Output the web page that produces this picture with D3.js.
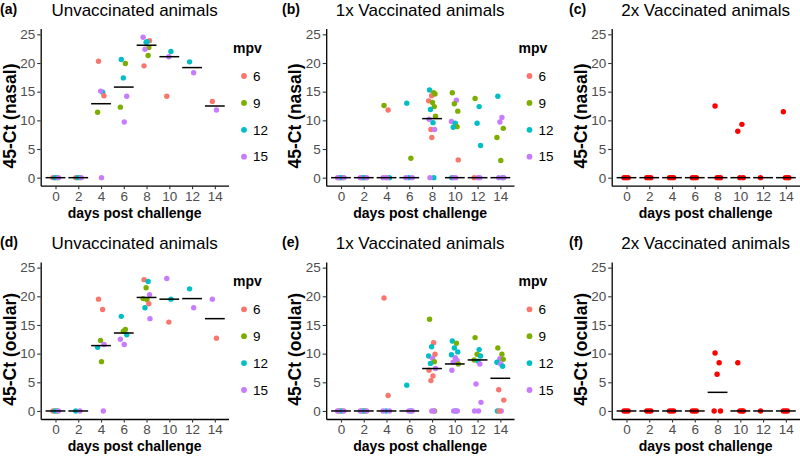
<!DOCTYPE html>
<html>
<head>
<meta charset="utf-8">
<script src="https://cdn.jsdelivr.net/npm/d3@7"></script>
<style>
body { margin: 0; background: #fff; }
text { font-family: "Liberation Sans", Arial, sans-serif; }
</style>
</head>
<body>
<script>
var svgWidth = 800;
var svgHeight = 458;

// ejes y niveles
var days = [0, 2, 4, 6, 8, 10, 12, 14];
var yTicks = [0, 5, 10, 15, 20, 25];
var mpvLevels = [6, 9, 12, 15];
var mpvColors = ["#F8766D", "#7CAE00", "#00BFC4", "#C77CFF"];

// [dia, mpv, 45-Ct]  -- (a) nasal, no vacunados
var nasalUnvax = [
  [0, 6, 0], [0, 9, 0], [0, 12, 0], [0, 15, 0],
  [2, 6, 0], [2, 9, 0], [2, 12, 0], [2, 15, 0],
  [4, 6, 20.3], [4, 12, 14.9], [4, 15, 15.1], [4, 6, 14.3], [4, 9, 11.4], [4, 15, 0],
  [6, 12, 20.6], [6, 9, 19.9], [6, 12, 17.4], [6, 15, 14.2], [6, 9, 12.3], [6, 15, 9.7],
  [8, 6, 19.5], [8, 9, 21.3], [8, 12, 23.6], [8, 6, 23.9], [8, 15, 24.5], [8, 12, 23.7], [8, 9, 22.7], [8, 15, 22.4],
  [10, 6, 14.2], [10, 12, 22.0], [10, 15, 21.1],
  [12, 12, 20.2], [12, 15, 18.3],
  [14, 6, 13.3], [14, 15, 11.8]
];
var nasalUnvaxMed = [0, 0, 12.9, 15.8, 23.1, 21.1, 19.2, 12.5];

// (b) nasal, 1x vacunados
var nasal1x = [
  [0, 6, 0], [0, 9, 0], [0, 12, 0], [0, 15, 0], [0, 15, 0],
  [2, 6, 0], [2, 9, 0], [2, 12, 0], [2, 15, 0], [2, 15, 0],
  [4, 9, 12.6], [4, 6, 11.8], [4, 6, 0], [4, 12, 0], [4, 15, 0], [4, 15, 0],
  [6, 12, 13.0], [6, 9, 3.4], [6, 12, 0], [6, 15, 0], [6, 15, 0],
  [8, 12, 15.3], [8, 9, 14.8], [8, 6, 14.3], [8, 9, 14.6], [8, 6, 13.4], [8, 9, 13.1], [8, 9, 12.4], [8, 12, 11.9],
  [8, 9, 10.7], [8, 15, 10.2], [8, 12, 9.6], [8, 6, 8.4], [8, 15, 8.4], [8, 6, 7.0], [8, 12, 0], [8, 15, 0],
  [10, 9, 14.8], [10, 15, 13.5], [10, 9, 12.9], [10, 9, 11.6], [10, 15, 9.8], [10, 12, 9.5], [10, 9, 8.9], [10, 12, 8.8],
  [10, 6, 3.1], [10, 12, 0], [10, 15, 0], [10, 15, 0],
  [12, 9, 13.8], [12, 12, 12.4], [12, 12, 9.5], [12, 12, 5.6], [12, 6, 0], [12, 15, 0], [12, 15, 0],
  [14, 12, 14.2], [14, 15, 10.5], [14, 15, 9.7], [14, 9, 8.6], [14, 9, 7.0], [14, 9, 3.0], [14, 12, 0], [14, 15, 0], [14, 15, 0]
];
var nasal1xMed = [0, 0, 0, 0, 10.3, 0, 0, 0];

// (c) nasal, 2x vacunados (sin mpv)
var nasal2x = [
  [0, 0, 0], [0, 0, 0], [0, 0, 0],
  [2, 0, 0], [2, 0, 0], [2, 0, 0],
  [4, 0, 0], [4, 0, 0], [4, 0, 0],
  [6, 0, 0], [6, 0, 0], [6, 0, 0],
  [8, 0, 12.5], [8, 0, 0], [8, 0, 0], [8, 0, 0],
  [10, 0, 8.1], [10, 0, 9.3], [10, 0, 0], [10, 0, 0],
  [12, 0, 0],
  [14, 0, 11.5], [14, 0, 0], [14, 0, 0], [14, 0, 0]
];
var nasal2xMed = [0, 0, 0, 0, 0, 0, 0, 0];

// (d) ocular, no vacunados
var ocularUnvax = [
  [0, 6, 0], [0, 9, 0], [0, 12, 0], [0, 15, 0],
  [2, 12, 0], [2, 15, 0],
  [4, 6, 19.5], [4, 6, 17.7], [4, 9, 12.3], [4, 15, 11.6], [4, 12, 11.1], [4, 9, 8.6], [4, 15, 0],
  [6, 12, 16.5], [6, 9, 14.2], [6, 9, 13.9], [6, 12, 13.3], [6, 15, 12.5], [6, 15, 11.6],
  [8, 6, 22.9], [8, 12, 22.6], [8, 9, 21.5], [8, 15, 20.3], [8, 9, 19.6], [8, 9, 19.4], [8, 6, 18.7], [8, 12, 18.0], [8, 15, 16.1],
  [10, 15, 23.1], [10, 12, 19.5], [10, 6, 15.5],
  [12, 12, 21.3], [12, 15, 18.0],
  [14, 15, 19.5], [14, 6, 12.7]
];
var ocularUnvaxMed = [0, 0, 11.4, 13.6, 19.8, 19.5, 19.6, 16.1];

// (e) ocular, 1x vacunados
var ocular1x = [
  [0, 6, 0], [0, 9, 0], [0, 12, 0], [0, 15, 0], [0, 15, 0],
  [2, 6, 0], [2, 9, 0], [2, 12, 0], [2, 15, 0], [2, 15, 0],
  [4, 6, 19.7], [4, 6, 2.7], [4, 12, 0], [4, 15, 0], [4, 15, 0],
  [6, 12, 4.5], [6, 12, 0], [6, 15, 0], [6, 15, 0],
  [8, 9, 16.0], [8, 6, 11.9], [8, 12, 11.2], [8, 6, 9.9], [8, 12, 9.6], [8, 15, 9.2], [8, 9, 8.6], [8, 12, 8.3],
  [8, 15, 7.4], [8, 6, 7.1], [8, 6, 6.1], [8, 6, 5.3], [8, 9, 0], [8, 15, 0], [8, 15, 0],
  [10, 12, 12.2], [10, 9, 11.8], [10, 12, 11.0], [10, 12, 10.3], [10, 12, 9.8], [10, 15, 9.3], [10, 15, 8.8], [10, 15, 8.5],
  [10, 9, 8.2], [10, 15, 7.1], [10, 12, 0], [10, 15, 0], [10, 15, 0],
  [12, 9, 12.8], [12, 12, 10.7], [12, 9, 9.9], [12, 12, 9.6], [12, 9, 8.9], [12, 12, 8.7], [12, 15, 8.2], [12, 15, 4.7],
  [12, 15, 1.5], [12, 15, 0], [12, 15, 0],
  [14, 9, 11.0], [14, 9, 9.9], [14, 15, 9.1], [14, 9, 9.0], [14, 12, 8.5], [14, 15, 8.2], [14, 12, 7.8], [14, 6, 3.7],
  [14, 6, 1.9], [14, 12, 0], [14, 15, 0], [14, 6, 0]
];
var ocular1xMed = [0, 0, 0, 0, 7.4, 8.2, 8.9, 5.7];

// (f) ocular, 2x vacunados
var ocular2x = [
  [0, 0, 0], [0, 0, 0], [0, 0, 0],
  [2, 0, 0], [2, 0, 0], [2, 0, 0],
  [4, 0, 0], [4, 0, 0], [4, 0, 0],
  [6, 0, 0], [6, 0, 0], [6, 0, 0],
  [8, 0, 10.1], [8, 0, 8.4], [8, 0, 6.4], [8, 0, 0], [8, 0, 0],
  [10, 0, 8.4], [10, 0, 0], [10, 0, 0], [10, 0, 0],
  [12, 0, 0],
  [14, 0, 0], [14, 0, 0], [14, 0, 0]
];
var ocular2xMed = [0, 0, 0, 0, 3.25, 0, 0, 0];

var panels = [
  { tag: "(a)", title: "Unvaccinated animals", ylab: "45-Ct (nasal)", data: nasalUnvax, med: nasalUnvaxMed, legend: true, col: 0, row: 0 },
  { tag: "(b)", title: "1x Vaccinated animals", ylab: "45-Ct (nasal)", data: nasal1x, med: nasal1xMed, legend: true, col: 1, row: 0 },
  { tag: "(c)", title: "2x Vaccinated animals", ylab: "45-Ct (nasal)", data: nasal2x, med: nasal2xMed, legend: false, col: 2, row: 0 },
  { tag: "(d)", title: "Unvaccinated animals", ylab: "45-Ct (ocular)", data: ocularUnvax, med: ocularUnvaxMed, legend: true, col: 0, row: 1 },
  { tag: "(e)", title: "1x Vaccinated animals", ylab: "45-Ct (ocular)", data: ocular1x, med: ocular1xMed, legend: true, col: 1, row: 1 },
  { tag: "(f)", title: "2x Vaccinated animals", ylab: "45-Ct (ocular)", data: ocular2x, med: ocular2xMed, legend: false, col: 2, row: 1 }
];

// desplazamiento horizontal pequeño (como geom_jitter) segun el orden dentro de cada dia
var jitterPattern = [-0.22, 0.14, -0.04, 0.26, -0.3, 0.04, 0.2, -0.14, 0.3, -0.26, 0.08, -0.1, 0.22, -0.02, 0.16, -0.18];

var colorScale = d3.scaleOrdinal().domain(mpvLevels).range(mpvColors);

var svg = d3.select("body")
  .append("svg")
  .attr("width", svgWidth)
  .attr("height", svgHeight);

var panelW = 285.5;
var panelH = 233.3;
var tagX = [0, 282, 569];

var xScale = d3.scaleLinear().domain([-1.3, 15.2]).range([40.7, 228.5]);
var yScale = d3.scaleLinear().domain([-1.4, 26]).range([185.7, 28.6]);

panels.forEach(function(p) {
  var g = svg.append("g")
    .attr("transform", "translate(" + (p.col * panelW) + "," + (p.row * panelH) + ")");

  // tag
  svg.append("text")
    .attr("x", tagX[p.col])
    .attr("y", 14 + p.row * panelH)
    .attr("font-size", 14)
    .attr("font-weight", "bold")
    .text(p.tag);

  // titulo
  g.append("text")
    .attr("x", (xScale.range()[0] + xScale.range()[1]) / 2)
    .attr("y", 16)
    .attr("text-anchor", "middle")
    .attr("font-size", 17)
    .text(p.title);

  // eje y
  var yAxis = g.append("g")
    .attr("transform", "translate(" + xScale.range()[0] + ",0)")
    .call(d3.axisLeft(yScale).tickValues(yTicks).tickSize(3.5).tickSizeOuter(0).tickPadding(2));
  // eje x
  var xAxis = g.append("g")
    .attr("transform", "translate(0," + yScale.range()[0] + ")")
    .call(d3.axisBottom(xScale).tickValues(days).tickSize(3.5).tickSizeOuter(0).tickPadding(2));

  [yAxis, xAxis].forEach(function(ax) {
    ax.select(".domain").attr("stroke", "#000").attr("stroke-width", 1.3);
    ax.selectAll(".tick line").attr("stroke", "#333").attr("stroke-width", 1.1);
    ax.selectAll(".tick text")
      .attr("fill", "#4D4D4D")
      .attr("font-size", 13.5)
      .attr("font-family", "Liberation Sans, Arial, sans-serif");
  });

  // titulos de ejes
  g.append("text")
    .attr("transform", "translate(15.5," + 116 + ") rotate(-90)")
    .attr("text-anchor", "middle")
    .attr("font-size", 17.5)
    .attr("font-weight", "bold")
    .text(p.ylab);

  g.append("text")
    .attr("x", (xScale.range()[0] + xScale.range()[1]) / 2)
    .attr("y", 218)
    .attr("text-anchor", "middle")
    .attr("font-size", 14)
    .attr("font-weight", "bold")
    .text("days post challenge");

  // puntos
  var counter = {};
  var pts = p.data.map(function(d) {
    var k = counter[d[0]] || 0;
    counter[d[0]] = k + 1;
    return { day: d[0], mpv: d[1], value: d[2], jit: jitterPattern[k % jitterPattern.length] };
  });

  g.append("g").selectAll("circle")
    .data(pts)
    .enter()
    .append("circle")
    .attr("cx", function(d) { return xScale(d.day + d.jit); })
    .attr("cy", function(d) { return yScale(d.value); })
    .attr("r", 2.7)
    .attr("fill", function(d) { return d.mpv ? colorScale(d.mpv) : "#FF0000"; });

  // medianas
  g.append("g").selectAll("line")
    .data(p.med)
    .enter()
    .append("line")
    .attr("x1", function(d, i) { return xScale(days[i] - 0.87); })
    .attr("x2", function(d, i) { return xScale(days[i] + 0.87); })
    .attr("y1", function(d) { return yScale(d); })
    .attr("y2", function(d) { return yScale(d); })
    .attr("stroke", "#000")
    .attr("stroke-width", 1.5);

  // leyenda
  if (p.legend) {
    var lg = g.append("g").attr("transform", "translate(233,0)");
    lg.append("text")
      .attr("x", 0)
      .attr("y", 53)
      .attr("font-size", 14)
      .attr("font-weight", "bold")
      .text("mpv");
    var items = lg.selectAll("g.item")
      .data(mpvLevels)
      .enter()
      .append("g")
      .attr("class", "item")
      .attr("transform", function(d, i) { return "translate(0," + (76 + i * 26.9) + ")"; });
    items.append("circle")
      .attr("cx", 11)
      .attr("cy", 0)
      .attr("r", 2.9)
      .attr("fill", function(d) { return colorScale(d); });
    items.append("text")
      .attr("x", 20)
      .attr("y", 0)
      .attr("dy", "0.35em")
      .attr("font-size", 13.5)
      .text(function(d) { return d; });
  }
});
</script>
</body>
</html>
